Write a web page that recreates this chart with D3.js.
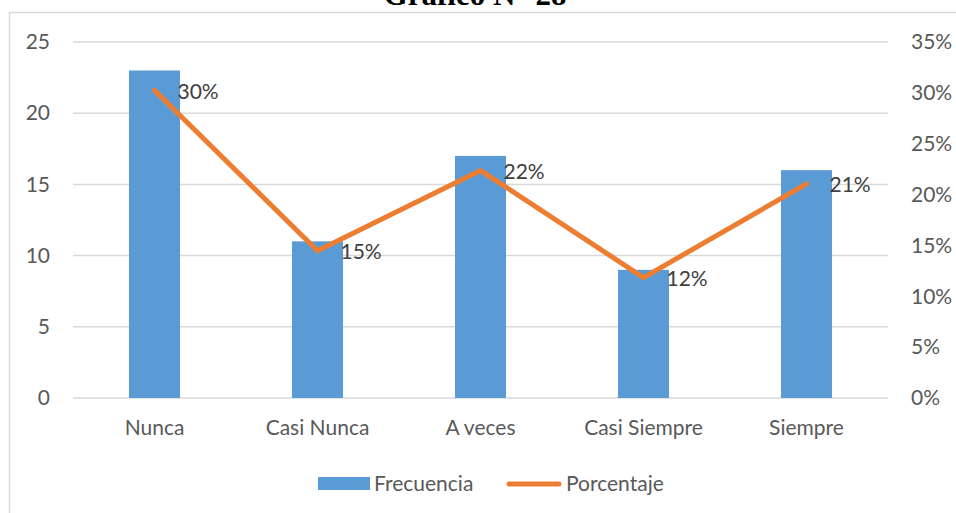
<!DOCTYPE html>
<html>
<head>
<meta charset="utf-8">
<title>Gráfico N° 28</title>
<script src="https://d3js.org/d3.v7.min.js"></script>
<style>
  body { margin: 0; background: #fff; }
  svg { display: block; }
  .tick text, .lbl, .legend text { font-family: Lato, "Open Sans", sans-serif; }
</style>
</head>
<body>
<div id="chart"></div>
<script>
// data
var categories = ["Nunca", "Casi Nunca", "A veces", "Casi Siempre", "Siempre"];
var frecuencia = [23, 11, 17, 9, 16];
var porcentaje = [0.3026, 0.1447, 0.2237, 0.1184, 0.2105];
var etiquetas = ["30%", "15%", "22%", "12%", "21%"];
var leftTicks = [0, 5, 10, 15, 20, 25];
var rightTicks = [0, 0.05, 0.10, 0.15, 0.20, 0.25, 0.30, 0.35];

var width = 956, height = 513;
var margin = {left: 73, right: 68, top: 42, bottom: 115};

var svg = d3.select("#chart").append("svg")
  .attr("width", width)
  .attr("height", height);

// frame of the chart area
svg.append("rect")
  .attr("x", 9.5).attr("y", 12.5)
  .attr("width", width + 20).attr("height", height + 20)
  .attr("fill", "none")
  .attr("stroke", "#d9d9d9")
  .attr("stroke-width", 1.5);

// title, cut by the top edge
svg.append("text")
  .attr("x", 475).attr("y", 5)
  .attr("text-anchor", "middle")
  .style("font-family", "'Liberation Serif', 'Times New Roman', serif")
  .style("font-weight", "bold")
  .style("font-size", "31px")
  .attr("fill", "#000")
  .text("Gráfico N° 28");

var x = d3.scaleBand()
  .domain(categories)
  .range([margin.left, width - margin.right])
  .padding(0);

var y = d3.scaleLinear()
  .domain([0, 25])
  .range([height - margin.bottom, margin.top]);

var y2 = d3.scaleLinear()
  .domain([0, 0.35])
  .range([height - margin.bottom, margin.top]);

// gridlines
svg.append("g")
  .selectAll("line")
  .data(leftTicks)
  .enter().append("line")
  .attr("x1", margin.left).attr("x2", width - margin.right)
  .attr("y1", function(d) { return y(d); })
  .attr("y2", function(d) { return y(d); })
  .attr("stroke", "#d9d9d9")
  .attr("stroke-width", 1.5);

// left axis
var leftAxis = svg.append("g")
  .attr("transform", "translate(" + (margin.left - 23) + ",0)")
  .call(d3.axisLeft(y).tickValues(leftTicks).tickSize(0).tickPadding(0));
leftAxis.select(".domain").remove();
leftAxis.selectAll("text").style("font-size", "21px").attr("fill", "#595959");

// right axis
var rightAxis = svg.append("g")
  .attr("transform", "translate(" + (width - margin.right + 23) + ",0)")
  .call(d3.axisRight(y2).tickValues(rightTicks).tickSize(0).tickPadding(0)
    .tickFormat(d3.format(".0%")));
rightAxis.select(".domain").remove();
rightAxis.selectAll("text").style("font-size", "21px").attr("fill", "#595959");

// bottom axis
var bottomAxis = svg.append("g")
  .attr("transform", "translate(0," + (height - margin.bottom + 22) + ")")
  .call(d3.axisBottom(x).tickSize(0).tickPadding(0));
bottomAxis.select(".domain").remove();
bottomAxis.selectAll("text").style("font-size", "21px").attr("fill", "#595959")
  .attr("dy", "0.71em");

// bars
var barW = x.bandwidth() * 0.313;
svg.append("g")
  .selectAll("rect")
  .data(frecuencia)
  .enter().append("rect")
  .attr("x", function(d, i) { return x(categories[i]) + x.bandwidth() / 2 - barW / 2; })
  .attr("y", function(d) { return y(d); })
  .attr("width", barW)
  .attr("height", function(d) { return y(0) - y(d); })
  .attr("fill", "#5b9bd5");

// line
var line = d3.line()
  .x(function(d, i) { return x(categories[i]) + x.bandwidth() / 2; })
  .y(function(d) { return y2(d); });

svg.append("path")
  .datum(porcentaje)
  .attr("d", line)
  .attr("fill", "none")
  .attr("stroke", "#ed7d31")
  .attr("stroke-width", 5)
  .attr("stroke-linecap", "round")
  .attr("stroke-linejoin", "round");

// data labels
svg.append("g")
  .selectAll("text")
  .data(porcentaje)
  .enter().append("text")
  .attr("class", "lbl")
  .attr("x", function(d, i) { return x(categories[i]) + x.bandwidth() / 2 + 23; })
  .attr("y", function(d) { return y2(d) + 1; })
  .attr("dy", "0.35em")
  .style("font-size", "21px")
  .attr("fill", "#404040")
  .text(function(d, i) { return etiquetas[i]; });

// legend
var legend = svg.append("g").attr("class", "legend");
legend.append("rect")
  .attr("x", 318).attr("y", 477).attr("width", 52).attr("height", 13)
  .attr("fill", "#5b9bd5");
legend.append("text")
  .attr("x", 374).attr("y", 484).attr("dy", "0.35em")
  .style("font-size", "21px").attr("fill", "#595959")
  .text("Frecuencia");
legend.append("line")
  .attr("x1", 509).attr("x2", 559).attr("y1", 484).attr("y2", 484)
  .attr("stroke", "#ed7d31").attr("stroke-width", 5)
  .attr("stroke-linecap", "round");
legend.append("text")
  .attr("x", 566).attr("y", 484).attr("dy", "0.35em")
  .style("font-size", "21px").attr("fill", "#595959")
  .text("Porcentaje");
</script>
</body>
</html>
